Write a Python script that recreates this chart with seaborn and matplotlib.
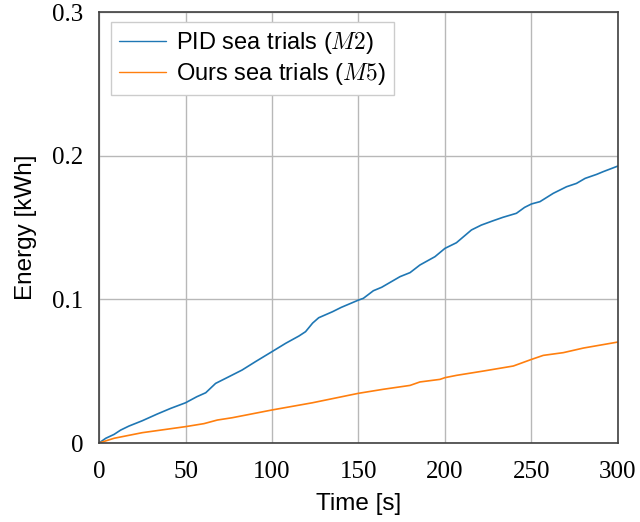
import pandas as pd
import matplotlib
matplotlib.use("Agg")
import matplotlib.pyplot as plt
import seaborn as sns

# PID sea trials (M2)
pid_time = [0, 3.9, 8.7, 12.5, 17.3, 25, 33.7, 41.4, 50, 56.5, 61.7, 67.4, 75,
            82.7, 90.4, 100, 107.9, 115.6, 119.4, 123.5, 127, 135, 140, 150,
            152.8, 158.6, 163.4, 174, 179.8, 185.5, 194.2, 200, 206.6, 215.3,
            221, 227.8, 233.5, 241.3, 246, 250, 254.9, 262.6, 270.3, 276, 281,
            287.7, 291.5, 300]
pid_energy = [0, 0.0033, 0.006, 0.009, 0.0118, 0.0155, 0.0202, 0.0241, 0.028,
              0.0322, 0.035, 0.0415, 0.0461, 0.0508, 0.0566, 0.0636, 0.0694,
              0.0745, 0.0775, 0.0835, 0.0872, 0.0914, 0.0944, 0.0995, 0.1007,
              0.106, 0.1084, 0.1158, 0.1186, 0.1239, 0.1297, 0.1355, 0.1394,
              0.1483, 0.1517, 0.1547, 0.1571, 0.1599, 0.164, 0.1664, 0.168,
              0.1738, 0.1784, 0.1807, 0.1842, 0.187, 0.1889, 0.1928]

# Ours sea trials (M5)
ours_time = [0, 8.7, 25, 50, 60.7, 68.4, 77, 100, 123.3, 145.1, 150, 164.3,
             179.8, 185.5, 197.1, 200, 206.7, 222.2, 239.5, 250, 256.8, 268.4,
             280, 300]
ours_energy = [0, 0.0033, 0.0072, 0.0114, 0.0135, 0.016, 0.0176, 0.023, 0.028,
               0.0334, 0.0346, 0.0374, 0.0401, 0.0425, 0.0443, 0.0455, 0.0471,
               0.0501, 0.0536, 0.0582, 0.061, 0.0629, 0.0661, 0.0703]

labels = ["PID sea trials ($M2$)", "Ours sea trials ($M5$)"]

df = pd.concat([
    pd.DataFrame({"time": pid_time, "energy": pid_energy, "run": labels[0]}),
    pd.DataFrame({"time": ours_time, "energy": ours_energy, "run": labels[1]}),
], ignore_index=True)

sns.set_theme(style="whitegrid")
plt.rcParams["font.family"] = ["Liberation Sans", "DejaVu Sans"]
plt.rcParams["mathtext.fontset"] = "cm"
plt.rcParams["text.color"] = "black"
plt.rcParams["axes.labelcolor"] = "black"

fig = plt.figure(figsize=(6.4, 5.22), dpi=100)
ax = fig.add_axes([0.1547, 0.1513, 0.8109, 0.8257])

sns.lineplot(data=df, x="time", y="energy", hue="run", sort=False,
             palette=["#1f77b4", "#ff7f0e"], linewidth=1.2, ax=ax)

ax.set_xlim(0, 300)
ax.set_ylim(0, 0.3)
ax.set_xticks([0, 50, 100, 150, 200, 250, 300])
ax.set_yticks([0, 0.1, 0.2, 0.3])
ax.set_yticklabels(["0", "0.1", "0.2", "0.3"])
for lab in ax.get_xticklabels() + ax.get_yticklabels():
    lab.set_family("Liberation Serif")
    lab.set_fontsize(18)
ax.tick_params(axis="x", pad=6)
ax.tick_params(direction="out", length=7, width=1, color="#a0a0a0",
               labelcolor="black")
ax.tick_params(axis="y", pad=4)
ax.grid(True, color="#b8b8b8", linewidth=1)
for s in ax.spines.values():
    s.set_color("#404040")
    s.set_linewidth(1.2)

ax.set_xlabel("Time [s]", fontsize=17.5, labelpad=7, color="black")
ax.set_ylabel("Energy [kWh]", fontsize=17.5, labelpad=11, color="black")

leg = ax.legend(loc="upper left", fontsize=17, frameon=True, fancybox=False,
                handlelength=2.0, handletextpad=0.4, borderpad=0.35,
                labelspacing=0.2, borderaxespad=0,
                bbox_to_anchor=(0.023, 0.977))
leg.get_frame().set_edgecolor("#cccccc")
leg.get_frame().set_linewidth(1)
leg.get_frame().set_alpha(1)
for line in leg.get_lines():
    line.set_linewidth(1)
for t in leg.get_texts():
    t.set_color("black")

fig.savefig("out.png", dpi=100)
